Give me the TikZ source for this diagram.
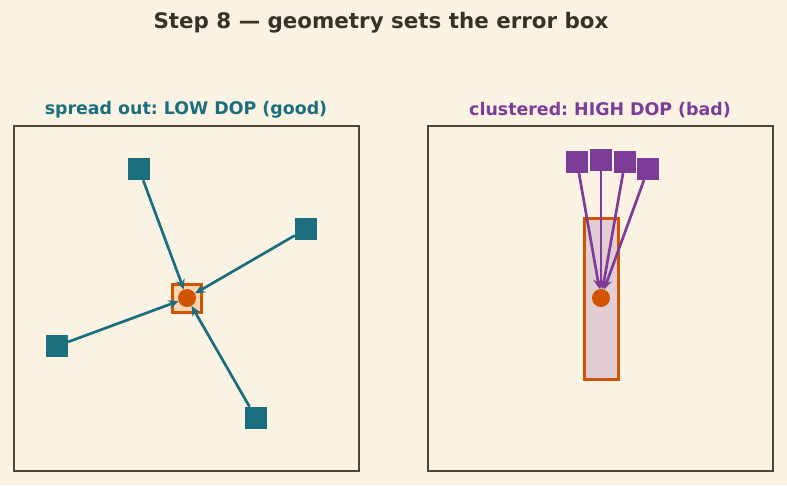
\documentclass[tikz,border=0pt]{standalone}
\usepackage{fontspec}
\setmainfont{DejaVu Sans}
\usetikzlibrary{arrows.meta, positioning}
\definecolor{paper}{RGB}{250, 243, 227}
\definecolor{ink}{RGB}{58, 48, 38}
\definecolor{frame}{RGB}{80, 68, 56}
\definecolor{teal}{RGB}{26, 110, 126}
\definecolor{plum}{RGB}{125, 60, 152}
\definecolor{rust}{RGB}{211, 84, 0}
\definecolor{rosefill}{RGB}{226, 205, 213}
\definecolor{peachfill}{RGB}{247, 212, 178}
\frenchspacing

\begin{document}
\begin{tikzpicture}[
          x=1pt, y=-1pt,
          panel/.style={draw=frame, line width=1.7pt},
          sat/.style={rectangle, minimum size=22pt, inner sep=0pt},
          rx/.style={circle, fill=rust, minimum size=18pt, inner sep=0pt},
          errbox/.style={draw=rust, line width=3pt},
          arr/.style={-{Stealth[length=10pt, width=9pt]}, line width=2.7pt},
          ttl/.style={font=\fontsize{17.4}{19}\selectfont\bfseries},
        ]
        \fill[paper] (0,0) rectangle (787,485);
        \useasboundingbox (0,0) rectangle (787,485);
        \node[font=\fontsize{21.4}{23}\selectfont\bfseries, text=ink] (title) at (381,23) {Step 8 — geometry sets the error box};

        % left: spread out
        \draw[panel] (14,126) rectangle (359,471);
        \node[ttl, text=teal] (lt) at (186,110) {spread out: LOW DOP (good)};
        \draw[errbox, fill=peachfill] (172,284) rectangle (201,312);
        \node[rx] (r1) at (187,298) {};
        \node[sat, fill=teal] (a) at (139,169) {};
        \node[sat, fill=teal] (b) at (306,229) {};
        \node[sat, fill=teal] (c) at (57,346) {};
        \node[sat, fill=teal] (d) at (256,418) {};
        \draw[arr, teal] (a) -- (r1);
        \draw[arr, teal] (b) -- (r1);
        \draw[arr, teal] (c) -- (r1);
        \draw[arr, teal] (d) -- (r1);

        % right: clustered
        \draw[panel] (428,126) rectangle (773,471);
        \node[ttl, text=plum] (rt) at (600,110) {clustered: HIGH DOP (bad)};
        \draw[errbox, fill=rosefill] (584,218) rectangle (618,379);
        \node[rx] (r2) at (601,298) {};
        \node[sat, fill=plum] (e) at (577,162) {};
        \node[sat, fill=plum] (f) at (601,160) {};
        \node[sat, fill=plum] (g) at (625,162) {};
        \node[sat, fill=plum] (h) at (648,169) {};
        \draw[arr, plum] (e) -- (r2);
        \draw[arr, plum] (f) -- (r2);
        \draw[arr, plum] (g) -- (r2);
        \draw[arr, plum] (h) -- (r2);
      \end{tikzpicture}
\end{document}
